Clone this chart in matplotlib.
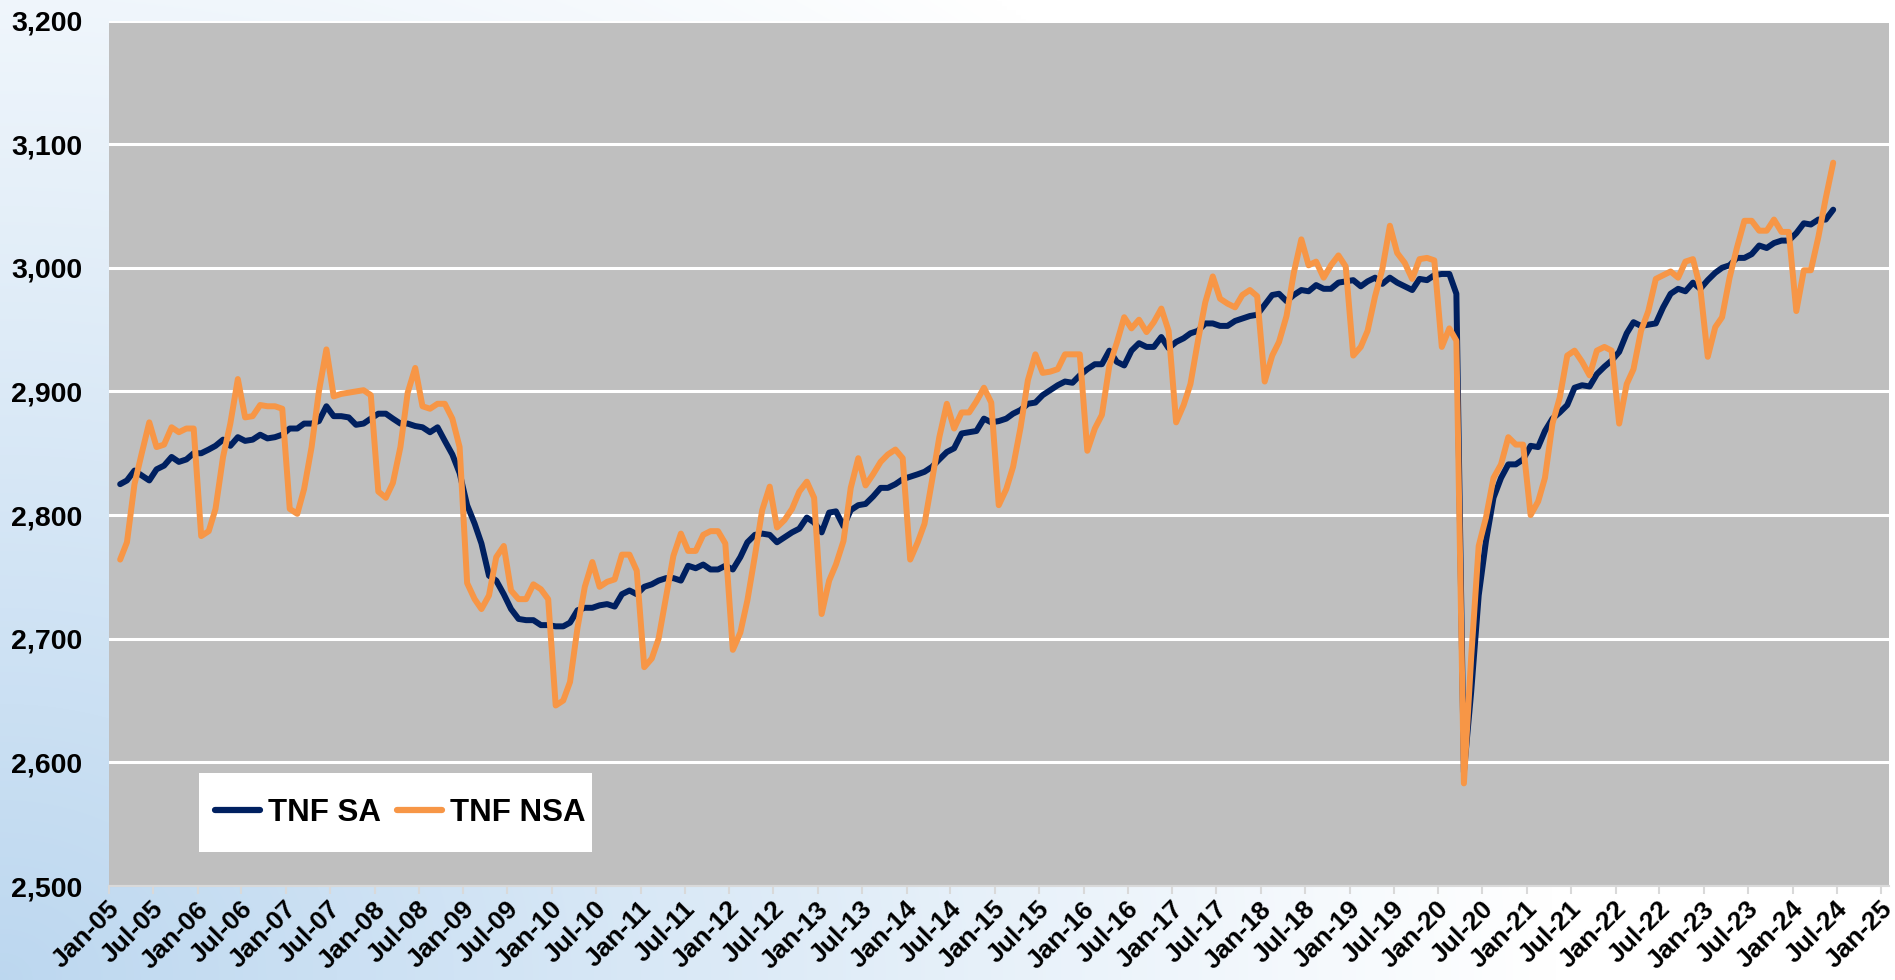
import numpy as np
import pandas as pd
import matplotlib
matplotlib.use('Agg')
import matplotlib.pyplot as plt
import matplotlib.dates as mdates
import matplotlib.transforms as mtransforms
from matplotlib.patches import Rectangle
from matplotlib.ticker import MultipleLocator, FuncFormatter

plt.rcParams['font.family'] = ['Liberation Sans', 'DejaVu Sans']
plt.rcParams['font.weight'] = 'bold'

# monthly values, Feb-05 .. Jun-24 (thousands)
first_month = '2005-02-01'

tnf_sa = [
    2825, 2828, 2836, 2832, 2828, 2837, 2840, 2847, 2843, 2845, 2850,
    2850, 2853, 2856, 2861, 2856, 2863, 2860, 2861, 2865, 2862, 2863, 2865,
    2870, 2870, 2874, 2874, 2876, 2888, 2880, 2880, 2879, 2873, 2874, 2878,
    2882, 2882, 2878, 2874, 2874, 2872, 2871, 2867, 2871, 2860, 2849, 2834,
    2808, 2793, 2777, 2751, 2747, 2736, 2724, 2716, 2715, 2715, 2711, 2711,
    2710, 2710, 2713, 2723, 2725, 2725, 2727, 2728, 2726, 2736, 2739, 2736,
    2742, 2744, 2747, 2749, 2749, 2747, 2759, 2757, 2760, 2756, 2756, 2759,
    2756, 2766, 2778, 2784, 2785, 2784, 2778, 2782, 2786, 2789, 2798, 2794,
    2786, 2802, 2803, 2791, 2804, 2808, 2809, 2815, 2822, 2822, 2825, 2829,
    2831, 2833, 2835, 2839, 2845, 2851, 2854, 2866, 2867, 2868, 2878, 2875,
    2876, 2878, 2882, 2885, 2890, 2891, 2897, 2901, 2905, 2908, 2907, 2913,
    2918, 2922, 2922, 2933, 2924, 2921, 2933, 2939, 2936, 2936, 2944, 2935,
    2940, 2943, 2947, 2949, 2955, 2955, 2953, 2953, 2957, 2959, 2961, 2962,
    2970, 2978, 2979, 2973, 2978, 2982, 2981, 2986, 2983, 2983, 2988, 2989,
    2990, 2985, 2989, 2992, 2987, 2992, 2988, 2985, 2982, 2991, 2990, 2994,
    2995, 2995, 2979, 2592, 2657, 2735, 2779, 2814, 2830, 2841, 2841, 2845,
    2856, 2855, 2868, 2878, 2883, 2889, 2903, 2905, 2904, 2914, 2920, 2925,
    2932, 2947, 2956, 2953, 2954, 2955, 2968, 2979, 2983, 2981, 2988, 2983,
    2990, 2996, 3000, 3002, 3008, 3008, 3011, 3018, 3016, 3020, 3022, 3022,
    3028, 3036, 3035, 3039, 3039, 3047,
]

tnf_nsa = [
    2764, 2778, 2825, 2850, 2875, 2855, 2857, 2871, 2867, 2870, 2870,
    2783, 2787, 2805, 2847, 2874, 2910, 2879, 2880, 2889, 2888, 2888, 2886,
    2805, 2801, 2821, 2855, 2900, 2934, 2896, 2898, 2899, 2900, 2901, 2897,
    2819, 2814, 2826, 2855, 2899, 2919, 2888, 2886, 2890, 2890, 2878, 2855,
    2745, 2732, 2724, 2735, 2766, 2775, 2739, 2732, 2732, 2744, 2740, 2732,
    2646, 2650, 2665, 2709, 2742, 2762, 2742, 2746, 2748, 2768, 2768, 2755,
    2677, 2684, 2700, 2734, 2767, 2785, 2771, 2771, 2784, 2787, 2787, 2777,
    2691, 2705, 2731, 2767, 2804, 2823, 2790, 2796, 2805, 2819, 2827, 2814,
    2720, 2747, 2760, 2779, 2822, 2846, 2824, 2833, 2843, 2849, 2853, 2846,
    2764, 2778, 2793, 2828, 2863, 2890, 2870, 2883, 2883, 2892, 2903, 2891,
    2808, 2821, 2839, 2871, 2909, 2930, 2915, 2916, 2918, 2930, 2930, 2930,
    2852, 2870, 2881, 2921, 2939, 2960, 2951, 2958, 2948, 2956, 2967, 2949,
    2875, 2889, 2906, 2941, 2972, 2993, 2975, 2971, 2968, 2978, 2982, 2977,
    2908, 2929, 2940, 2961, 2996, 3023, 3002, 3005, 2992, 3002, 3010, 3001,
    2929, 2936, 2949, 2977, 2999, 3034, 3012, 3004, 2991, 3007, 3008, 3006,
    2936, 2951, 2941, 2583, 2685, 2775, 2798, 2830, 2841, 2863, 2857, 2857,
    2800, 2811, 2830, 2874, 2895, 2929, 2933, 2924, 2913, 2933, 2936, 2933,
    2874, 2906, 2918, 2949, 2965, 2991, 2994, 2997, 2992, 3005, 3007, 2984,
    2928, 2952, 2960, 2992, 3016, 3038, 3038, 3030, 3030, 3039, 3029, 3029,
    2965, 2998, 2998, 3025, 3056, 3085,
]

months = pd.date_range(first_month, periods=len(tnf_sa), freq='MS') + pd.Timedelta(days=15)

W, H = 1895, 980
fig = plt.figure(figsize=(W / 100, H / 100), dpi=100)

# chart-area gradient: light blue bottom-left fading to white
bg = fig.add_axes([0, 0, 1, 1], zorder=-10)
u = np.linspace(0, 1, 400)[None, :]
v = np.linspace(1, 0, 220)[:, None]
t = np.clip(np.sqrt((u / 0.82) ** 2 + (v / 1.3) ** 2), 0, 1)
blue = np.array([0.74, 0.845, 0.94])
white = np.array([1.0, 1.0, 1.0])
img = blue[None, None, :] * (1 - t[..., None]) + white[None, None, :] * t[..., None]
bg.imshow(img, aspect='auto', extent=[0, 1, 0, 1], interpolation='bilinear')
bg.set_axis_off()

ax = fig.add_axes([109 / W, 1 - 886 / H, 1780 / W, 865.5 / H])
ax.set_facecolor('#BFBFBF')

ax.plot(months, tnf_sa, color='#002060', lw=4.3, label='TNF SA',
        solid_joinstyle='round', solid_capstyle='round')
ax.plot(months, tnf_nsa, color='#F79646', lw=4.3, label='TNF NSA',
        solid_joinstyle='round', solid_capstyle='round')

ax.set_ylim(2500, 3200)
ax.yaxis.set_major_locator(MultipleLocator(100))
ax.yaxis.set_major_formatter(FuncFormatter(lambda y, _: f'{y:,.0f}'))
ax.set_xlim(pd.Timestamp('2005-01-01'), pd.Timestamp('2025-02-01'))
ax.xaxis.set_major_locator(mdates.MonthLocator(bymonth=[1, 7]))
ax.xaxis.set_major_formatter(mdates.DateFormatter('%b-%y'))

ax.grid(axis='y', color='white', linewidth=2.2)
ax.grid(axis='x', visible=False)
ax.set_axisbelow(True)
for side in ['top', 'right', 'left']:
    ax.spines[side].set_visible(False)
ax.spines['bottom'].set_color('#D9D9D9')
ax.spines['bottom'].set_linewidth(1.5)

ax.tick_params(axis='y', length=0, pad=19, labelsize=20.5)
ax.tick_params(axis='x', length=6, width=1.5, color='#D9D9D9', pad=8, labelsize=19)
shift = mtransforms.ScaledTranslation(5 / 72, 0, fig.dpi_scale_trans)
for lbl in ax.get_xticklabels():
    lbl.set_rotation(45)
    lbl.set_ha('right')
    lbl.set_va('center')
    lbl.set_rotation_mode('anchor')
    lbl.set_transform(lbl.get_transform() + shift)

# white legend box
ax.add_patch(Rectangle((199 / W, 1 - 852 / H), 393 / W, 79 / H, transform=fig.transFigure,
                       facecolor='white', edgecolor='none', zorder=4.5, clip_on=False))
leg = ax.legend(loc='center left', bbox_to_anchor=(215 / W, 1 - 813 / H),
                bbox_transform=fig.transFigure, ncol=2, frameon=False,
                fontsize=22.5, handlelength=1.45, handletextpad=0.25,
                columnspacing=0.5, borderpad=0, borderaxespad=0)
for line in leg.get_lines():
    line.set_linewidth(4.5)

fig.savefig('out.png', dpi=100)
